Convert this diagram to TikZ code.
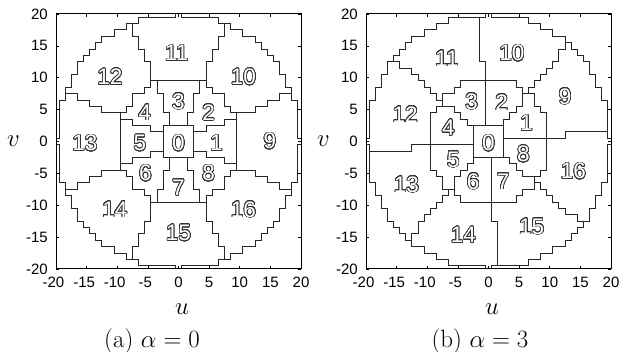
\documentclass[tikz,border=0pt]{standalone}
\usepackage{fontspec}
\newfontfamily\axfont{Liberation Sans}
\usepackage{contour}
\contourlength{0.7pt}
\contournumber{32}
\tikzset{
  bnd/.style={line width=1pt, draw=black!85, line cap=rect},
  frm/.style={line width=1pt, draw=black},
  tck/.style={line width=0.6pt, draw=black},
  tcklab/.style={font=\axfont\fontsize{15}{16}\selectfont, inner sep=0pt},
  reglab/.style={font=\axfont\fontsize{22.5}{24}\selectfont, inner sep=0pt, text=white},
  axlab/.style={font=\fontsize{28}{30}\selectfont, inner sep=0pt},
  caplab/.style={font=\fontsize{25}{27}\selectfont, inner sep=0pt, anchor=base},
}
% label of grid cell (i,j): #1 tag, #2 i, #3 j, #4 angular offset
\newcommand\mklab[4]{%
  \ifnum\numexpr(#2)*(#2)+(#3)*(#3)\relax>400
    \def\lab{-1}%
  \else
    \ifnum\numexpr(#2)*(#2)+(#3)*(#3)\relax<9
      \def\lab{0}%
    \else
      \pgfmathtruncatemacro\bn{mod(floor((atan2(#3,#2)+382.5-#4)/45),8)}%
      \ifnum\numexpr(#2)*(#2)+(#3)*(#3)\relax<100
        \edef\lab{\the\numexpr1+\bn\relax}%
      \else
        \edef\lab{\the\numexpr9+\bn\relax}%
      \fi
    \fi
  \fi
  \expandafter\xdef\csname L#1:#2:#3\endcsname{\lab}%
}
\newcommand\buildgrid[2]{%
  \foreach \i in {-21,...,21}{%
    \foreach \j in {-21,...,21}{%
      \mklab{#1}{\i}{\j}{#2}%
    }%
  }%
}
\newcommand\drawedges[1]{%
  \foreach \i in {-21,...,20}{%
    \foreach \j in {-21,...,21}{%
      \edef\ip{\the\numexpr\i+1\relax}%
      \ifnum\csname L#1:\i:\j\endcsname=\csname L#1:\ip:\j\endcsname\relax\else
        \draw[bnd] (\i+0.5,\j-0.5) -- (\i+0.5,\j+0.5);
      \fi
    }%
  }%
  \foreach \i in {-21,...,21}{%
    \foreach \j in {-21,...,20}{%
      \edef\jp{\the\numexpr\j+1\relax}%
      \ifnum\csname L#1:\i:\j\endcsname=\csname L#1:\i:\jp\endcsname\relax\else
        \draw[bnd] (\i-0.5,\j+0.5) -- (\i+0.5,\j+0.5);
      \fi
    }%
  }%
}
\newcommand\axesdeco{%
  \draw[frm] (-20,-20) rectangle (20,20);
  \foreach \t in {-20,-15,...,20}{%
    \draw[tck] (\t,-20) -- ++(0,3pt);
    \draw[tck] (\t,20) -- ++(0,-3pt);
    \draw[tck] (-20,\t) -- ++(3pt,0);
    \draw[tck] (20,\t) -- ++(-3pt,0);
    \node[tcklab, anchor=base, yshift=-19pt] at (\t,-20)
      {\ifnum\t<0 \llap{-}\the\numexpr-\t\relax\else\t\fi};
    \node[tcklab, anchor=east, xshift=-8pt] at (-20,\t) {\t};
  }
}
\begin{document}
\begin{tikzpicture}
\useasboundingbox (0,0) rectangle (619pt,352pt);
\buildgrid{A}{0}
\buildgrid{B}{27}
% ---------- panel (a)
\begin{scope}[shift={(178.5pt,210.5pt)}, x=6.125pt, y=6.375pt]
  \begin{scope}
    \clip (-20,-20) rectangle (20,20);
    \drawedges{A}
  \end{scope}
  \axesdeco
  \node[reglab] (a0)  at (0,-0.3)     {\contour{black!80}{0}};
  \node[reglab] (a1)  at (6.2,-0.3)   {\contour{black!80}{1}};
  \node[reglab] (a2)  at (4.9,4.5)    {\contour{black!80}{2}};
  \node[reglab] (a3)  at (0,6.25)     {\contour{black!80}{3}};
  \node[reglab] (a4)  at (-5.5,4.5)   {\contour{black!80}{4}};
  \node[reglab] (a5)  at (-6.3,-0.3)  {\contour{black!80}{5}};
  \node[reglab] (a6)  at (-5.4,-5)    {\contour{black!80}{6}};
  \node[reglab] (a7)  at (0,-7.3)     {\contour{black!80}{7}};
  \node[reglab] (a8)  at (4.9,-5)     {\contour{black!80}{8}};
  \node[reglab] (a9)  at (14.9,0)     {\contour{black!80}{9}};
  \node[reglab] (a10) at (10.6,10.1)  {\contour{black!80}{10}};
  \node[reglab] (a11) at (-0.3,13.8)  {\contour{black!80}{11}};
  \node[reglab] (a12) at (-11.2,10.1) {\contour{black!80}{12}};
  \node[reglab] (a13) at (-15.3,-0.3) {\contour{black!80}{13}};
  \node[reglab] (a14) at (-10.4,-10.7){\contour{black!80}{14}};
  \node[reglab] (a15) at (0,-14.4)    {\contour{black!80}{15}};
  \node[reglab] (a16) at (10.6,-10.7) {\contour{black!80}{16}};
\end{scope}
% ---------- panel (b)
\begin{scope}[shift={(488.5pt,210.5pt)}, x=6.125pt, y=6.375pt]
  \begin{scope}
    \clip (-20,-20) rectangle (20,20);
    \drawedges{B}
  \end{scope}
  \axesdeco
  \node[reglab] (b0)  at (0,-0.3)     {\contour{black!80}{0}};
  \node[reglab] (b1)  at (6.2,2.85)   {\contour{black!80}{1}};
  \node[reglab] (b2)  at (2.15,6.1)   {\contour{black!80}{2}};
  \node[reglab] (b3)  at (-2.75,6.25) {\contour{black!80}{3}};
  \node[reglab] (b4)  at (-6.55,2.1)  {\contour{black!80}{4}};
  \node[reglab] (b5)  at (-5.75,-2.9) {\contour{black!80}{5}};
  \node[reglab] (b6)  at (-2.5,-6.3)  {\contour{black!80}{6}};
  \node[reglab] (b7)  at (2.4,-6.3)   {\contour{black!80}{7}};
  \node[reglab] (b8)  at (5.7,-2.0)   {\contour{black!80}{8}};
  \node[reglab] (b9)  at (12.5,7.0)   {\contour{black!80}{9}};
  \node[reglab] (b10) at (3.8,13.8)   {\contour{black!80}{10}};
  \node[reglab] (b11) at (-6.8,13.0)  {\contour{black!80}{11}};
  \node[reglab] (b12) at (-13.6,4.2)  {\contour{black!80}{12}};
  \node[reglab] (b13) at (-13.4,-6.8) {\contour{black!80}{13}};
  \node[reglab] (b14) at (-4.1,-14.7) {\contour{black!80}{14}};
  \node[reglab] (b15) at (7.05,-13.4) {\contour{black!80}{15}};
  \node[reglab] (b16) at (13.85,-4.7) {\contour{black!80}{16}};
\end{scope}
% ---------- axis labels and captions
\node[axlab] (ua) at (182pt,43pt) {$u$};
\node[axlab] (va) at (13.5pt,210.5pt) {$v$};
\node[axlab] (ub) at (492pt,43pt) {$u$};
\node[axlab] (vb) at (323.5pt,210.5pt) {$v$};
\node[caplab] (capa) at (152pt,4pt) {(a) $\alpha = 0$};
\node[caplab] (capb) at (480pt,4pt) {(b) $\alpha = 3$};
\end{tikzpicture}
\end{document}
